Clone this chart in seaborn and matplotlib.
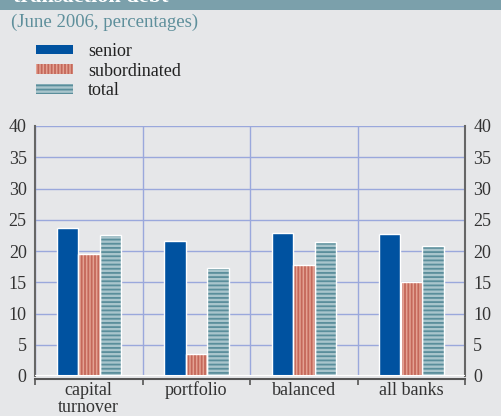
import seaborn as sns
import matplotlib.pyplot as plt
import pandas as pd
from matplotlib.patches import Patch, Rectangle

# data
categories = ["capital\nturnover", "portfolio", "balanced", "all banks"]
senior = [23.7, 21.6, 22.9, 22.8]
subordinated = [19.5, 3.5, 17.7, 15.1]
total = [22.6, 17.3, 21.5, 20.8]
series = ["senior", "subordinated", "total"]

df = pd.DataFrame({
    "category": categories * 3,
    "value": senior + subordinated + total,
    "series": ["senior"] * 4 + ["subordinated"] * 4 + ["total"] * 4,
})

bg = "#e6e7e9"
face = {"senior": "#0052a0", "subordinated": "#e3a292", "total": "#a9c5cc"}
hatch_col = {"senior": "#0052a0", "subordinated": "#c4685a", "total": "#5a8e9b"}
hatches = {"senior": "", "subordinated": "|||||", "total": "----"}

sns.set_theme(style="white")
plt.rcParams["font.family"] = ["Liberation Serif", "DejaVu Serif"]
plt.rcParams["hatch.linewidth"] = 1.3

fig = plt.figure(figsize=(5.01, 4.16), dpi=100, facecolor=bg)
ax = fig.add_axes([35 / 501, 1 - 376 / 416, 430 / 501, 250 / 416])
ax.set_facecolor(bg)

sns.barplot(data=df, x="category", y="value", hue="series", hue_order=series,
            palette=face, saturation=1, width=0.6, ax=ax, legend=False,
            linewidth=0)

# hatch fills + thin white outlines
for cont, name in zip(ax.containers, series):
    for bar in cont:
        bar.set_edgecolor(hatch_col[name])
        bar.set_hatch(hatches[name])
        bar.set_linewidth(0)
        ax.add_patch(Rectangle((bar.get_x(), bar.get_y()), bar.get_width(),
                               bar.get_height(), fill=False, edgecolor="white",
                               linewidth=1.0, zorder=bar.get_zorder() + 0.1))

ax.set_xlim(-0.5, 3.5)
ax.set_ylim(0, 40)
ax.set_yticks(range(0, 41, 5))
ax.set_xlabel("")
ax.set_ylabel("")

grid = "#9aa8dc"
ax.set_axisbelow(True)
ax.yaxis.grid(True, color=grid, linewidth=1)
ax.set_xticks([0.5, 1.5, 2.5], minor=True)
ax.xaxis.grid(True, which="minor", color=grid, linewidth=1)
ax.xaxis.grid(False, which="major")
ax.axhline(0, color="white", linewidth=1.5, zorder=3)

for s in ["left", "right"]:
    ax.spines[s].set_color("#666666")
    ax.spines[s].set_linewidth(1.5)
ax.spines["top"].set_visible(False)
ax.spines["bottom"].set_color("#555555")
ax.spines["bottom"].set_linewidth(1.5)
ax.spines["bottom"].set_position(("outward", 2))

ax.tick_params(axis="y", left=False, right=False, length=0, labelleft=True,
               labelright=True, labelsize=13, pad=6, labelcolor="#333333")
ax.tick_params(axis="x", which="major", bottom=False, length=0, labelsize=13,
               pad=2, labelcolor="#333333")
ax.set_xticks([-0.5, 0.5, 1.5, 2.5, 3.5], minor=True)
ax.tick_params(axis="x", which="minor", bottom=True, length=4, width=1.2,
               color="#555555", direction="out")
for lab in ax.get_xticklabels():
    lab.set_linespacing(1.0)

# title band (title cut off at the top, as in the source) and subtitle
fig.patches.append(Rectangle((0, 1 - 10 / 416), 1, 10 / 416, transform=fig.transFigure,
                             facecolor="#7ba0ab", edgecolor="none"))
fig.text(0.026, 1 - 2.5 / 416, "transaction debt", color="white", fontsize=16,
         fontweight="bold", va="baseline")
fig.text(0.022, 1 - 27 / 416, "(June 2006, percentages)", color="#5e8f9b",
         fontsize=13.5, va="baseline")

handles = [Patch(facecolor=face[n], edgecolor=hatch_col[n], hatch=hatches[n],
                 linewidth=0, label=n) for n in series]
fig.legend(handles=handles, loc="upper left", bbox_to_anchor=(0.053, 1 - 34 / 416),
           frameon=False, fontsize=13, handlelength=2.1, handleheight=0.45,
           handletextpad=0.8, labelspacing=0.15, borderpad=0,
           labelcolor="#222222")

fig.savefig("out.png", dpi=100, facecolor=bg)
